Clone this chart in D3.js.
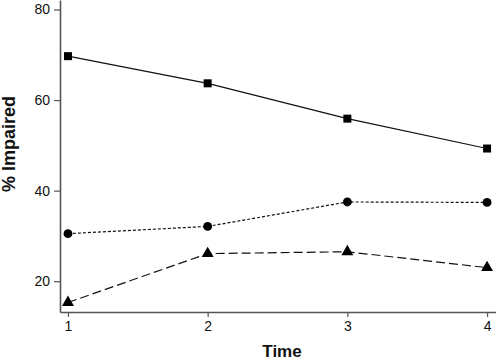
<!DOCTYPE html>
<html>
<head>
<meta charset="utf-8">
<script src="https://cdn.jsdelivr.net/npm/d3@7"></script>
<style>
  body { margin: 0; background: #fff; }
  svg { display: block; font-family: "Liberation Sans", Arial, sans-serif; }
</style>
</head>
<body>
<div id="chart"></div>
<script>
const width = 496;
const height = 360;

// data
const times = [1, 2, 3, 4];
const squareVals = [69.7, 63.7, 55.9, 49.3];
const circleVals = [30.5, 32.1, 37.5, 37.4];
const triangleVals = [15.3, 26.1, 26.5, 23.0];
const yTicks = [20, 40, 60, 80];

const series = [
  { name: "square", values: squareVals, dash: null, symbol: d3.symbolSquare, size: 64 },
  { name: "circle", values: circleVals, dash: "3,2", symbol: d3.symbolCircle, size: 62 },
  { name: "triangle", values: triangleVals, dash: "9,4", symbol: d3.symbolTriangle, size: 62 }
];

const svg = d3.select("#chart")
  .append("svg")
    .attr("width", width)
    .attr("height", height);

// axis lines run past the first / last tick, so the domains are padded a bit
const x = d3.scaleLinear().domain([0.943, 4.064]).range([60, 496]);
const y = d3.scaleLinear().domain([13.2, 82.1]).range([312, 0]);

const xAxis = svg.append("g")
  .attr("transform", "translate(0,312)")
  .call(d3.axisBottom(x).tickValues(times).tickFormat(d3.format("d"))
    .tickSize(5).tickSizeOuter(0).tickPadding(4));

const yAxis = svg.append("g")
  .attr("transform", "translate(60,0)")
  .call(d3.axisLeft(y).tickValues(yTicks).tickSize(6).tickSizeOuter(0).tickPadding(4));

[xAxis, yAxis].forEach(ax => {
  ax.select(".domain").attr("stroke", "#555").attr("stroke-width", 1.6);
  ax.selectAll(".tick line").attr("stroke", "#555").attr("stroke-width", 1.2);
  ax.selectAll(".tick text")
    .attr("fill", "#111")
    .attr("font-size", 14)
    .attr("font-family", "Liberation Sans, Arial, sans-serif");
});

// axis titles
svg.append("text")
  .attr("x", 282)
  .attr("y", 357)
  .attr("text-anchor", "middle")
  .attr("font-size", 17)
  .attr("font-weight", "bold")
  .attr("fill", "#111")
  .text("Time");

svg.append("text")
  .attr("transform", "translate(15,144) rotate(-90)")
  .attr("text-anchor", "middle")
  .attr("font-size", 18)
  .attr("font-weight", "bold")
  .attr("fill", "#111")
  .text("% Impaired");

const line = d3.line()
  .x((d, i) => x(times[i]))
  .y(d => y(d));

const groups = svg.selectAll(".series")
  .data(series)
  .enter()
  .append("g")
  .attr("class", "series");

groups.append("path")
  .attr("d", d => line(d.values))
  .attr("fill", "none")
  .attr("stroke", "#111")
  .attr("stroke-width", 1.2)
  .attr("stroke-dasharray", d => d.dash);

groups.each(function(s) {
  d3.select(this).selectAll("path.mark")
    .data(s.values)
    .enter()
    .append("path")
    .attr("class", "mark")
    .attr("d", d3.symbol().type(s.symbol).size(s.size))
    .attr("transform", (d, i) => "translate(" + x(times[i]) + "," + y(d) + ")")
    .attr("fill", "#000");
});
</script>
</body>
</html>
